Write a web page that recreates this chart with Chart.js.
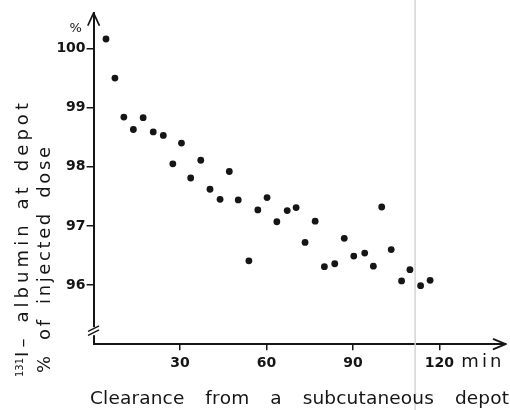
<!DOCTYPE html>
<html>
<head>
<meta charset="utf-8">
<script src="https://cdn.jsdelivr.net/npm/chart.js@4/dist/chart.umd.min.js"></script>
<style>
html,body{margin:0;padding:0;background:#fff;}
#wrap{width:510px;height:410px;}
</style>
</head>
<body>
<div id="wrap"><canvas id="c" width="510" height="410"></canvas></div>
<script>
// ---- data ----
const times = [4.3, 7.4, 10.5, 13.8, 17.2, 20.7, 24.2, 27.5, 30.5, 33.7, 37.2, 40.4, 43.9, 47.1, 50.2, 53.9, 57.0, 60.2, 63.6, 67.2, 70.3, 73.4, 76.9, 80.1, 83.7, 87.0, 90.3, 94.1, 97.1, 100.0, 103.3, 106.9, 109.8, 113.5, 116.8];
const percent = [100.16, 99.50, 98.84, 98.63, 98.83, 98.59, 98.53, 98.05, 98.40, 97.81, 98.11, 97.62, 97.45, 97.92, 97.44, 96.41, 97.27, 97.48, 97.07, 97.26, 97.31, 96.72, 97.08, 96.31, 96.36, 96.79, 96.49, 96.54, 96.32, 97.32, 96.60, 96.07, 96.26, 95.99, 96.08];
const xTicks = [30, 60, 90, 120];
const yTicks = [96, 97, 98, 99, 100];
const xUnit = "min";
const yUnit = "%";
const xTitle = ["Clearance", "from", "a", "subcutaneous", "depot"];
const yTitle1Sup = "131";
const yTitle1 = ["I\u2013", "albumin", "at", "depot"];
const yTitle2 = ["%", "of", "injected", "dose"];
const scanLineAt = 111.6;

const INK = '#151515';
const FONT = '"DejaVu Sans", sans-serif';

function spreadText(ctx, words, length, wordGap) {
  let sum = 0, gaps = 0;
  words.forEach(w => { for (const ch of w) sum += ctx.measureText(ch).width; gaps += Array.from(w).length - 1; });
  const ls = gaps > 0 ? (length - sum - wordGap * (words.length - 1)) / gaps : 0;
  let x = 0;
  words.forEach((w, wi) => {
    const chars = Array.from(w);
    chars.forEach((ch, ci) => {
      ctx.fillText(ch, x, 0);
      x += ctx.measureText(ch).width + (ci < chars.length - 1 ? ls : 0);
    });
    if (wi < words.length - 1) x += wordGap;
  });
}

const deco = {
  id: 'deco',
  beforeDatasetsDraw(chart) {
    const ctx = chart.ctx;
    const x = chart.scales.x.getPixelForValue(scanLineAt);
    ctx.save();
    ctx.strokeStyle = '#d4d4d4';
    ctx.lineWidth = 1.5;
    ctx.beginPath();
    ctx.moveTo(x, 0); ctx.lineTo(x, chart.height);
    ctx.stroke();
    ctx.restore();
  },
  afterDraw(chart) {
    const ctx = chart.ctx;
    const a = chart.chartArea;
    const xs = chart.scales.x, ys = chart.scales.y;
    ctx.save();
    ctx.strokeStyle = INK; ctx.fillStyle = INK;
    ctx.lineWidth = 1.8; ctx.lineCap = 'round'; ctx.lineJoin = 'round';
    // y arrow
    ctx.beginPath();
    ctx.moveTo(a.left - 5.5, a.top + 12); ctx.lineTo(a.left, a.top); ctx.lineTo(a.left + 5.5, a.top + 12);
    ctx.stroke();
    // x arrow
    ctx.beginPath();
    ctx.moveTo(a.right - 12, a.bottom - 5); ctx.lineTo(a.right, a.bottom); ctx.lineTo(a.right - 12, a.bottom + 5);
    ctx.stroke();
    // axis break
    ctx.fillStyle = '#fff';
    ctx.fillRect(a.left - 3, a.bottom - 17, 6, 8);
    ctx.fillStyle = INK;
    ctx.lineWidth = 1.5;
    ctx.beginPath();
    ctx.moveTo(a.left - 5, a.bottom - 13); ctx.lineTo(a.left + 5, a.bottom - 18);
    ctx.moveTo(a.left - 5, a.bottom - 9); ctx.lineTo(a.left + 5, a.bottom - 14);
    ctx.stroke();
    // units
    ctx.font = '13px ' + FONT;
    ctx.textAlign = 'center'; ctx.textBaseline = 'middle';
    ctx.fillText(yUnit, a.left - 18, ys.getPixelForValue(100) - 20);
    ctx.font = '18px ' + FONT;
    ctx.textAlign = 'left'; ctx.textBaseline = 'alphabetic';
    ctx.save();
    ctx.translate(xs.getPixelForValue(120) + 22, a.bottom + 23);
    spreadText(ctx, [xUnit], 40, 0);
    ctx.restore();
    // x title
    ctx.font = '18.5px ' + FONT;
    ctx.save();
    ctx.translate(90, 404);
    spreadText(ctx, xTitle, 419, 21);
    ctx.restore();
    // y title line 1
    ctx.save();
    ctx.translate(28, 377);
    ctx.rotate(-Math.PI / 2);
    ctx.font = '10px ' + FONT;
    ctx.fillText(yTitle1Sup, 0, -5);
    const supW = ctx.measureText(yTitle1Sup).width + 1;
    ctx.translate(supW, 0);
    ctx.font = '18px ' + FONT;
    spreadText(ctx, yTitle1, 274 - supW, 16);
    ctx.restore();
    // y title line 2
    ctx.save();
    ctx.translate(50, 373);
    ctx.rotate(-Math.PI / 2);
    ctx.font = '18px ' + FONT;
    spreadText(ctx, yTitle2, 226, 16);
    ctx.restore();
    ctx.restore();
  }
};

new Chart(document.getElementById('c'), {
  type: 'scatter',
  data: {
    datasets: [{
      data: times.map((t, i) => ({ x: t, y: percent[i] })),
      backgroundColor: INK,
      borderColor: INK,
      pointRadius: 3.4,
      pointHoverRadius: 3.4,
      borderWidth: 0
    }]
  },
  options: {
    responsive: false,
    animation: false,
    devicePixelRatio: 1,
    layout: { padding: { left: 0, top: 13, right: 4.4, bottom: 0 } },
    plugins: { legend: { display: false }, tooltip: { enabled: false } },
    scales: {
      x: {
        type: 'linear', min: 0, max: 143,
        afterBuildTicks: s => { s.ticks = xTicks.map(v => ({ value: v })); },
        afterFit: s => { s.height = 65.8; },
        grid: { display: true, drawOnChartArea: false, drawTicks: true, tickLength: 6, color: INK, lineWidth: 1.5 },
        border: { display: true, color: INK, width: 2 },
        ticks: { color: INK, font: { family: FONT, size: 14, weight: 'bold' }, padding: 5, maxRotation: 0, callback: v => String(v) }
      },
      y: {
        type: 'linear', min: 95, max: 100.6,
        afterBuildTicks: s => { s.ticks = yTicks.map(v => ({ value: v })); },
        afterFit: s => { s.width = 93.6; },
        grid: { display: true, drawOnChartArea: false, drawTicks: true, tickLength: 7, color: INK, lineWidth: 1.5 },
        border: { display: true, color: INK, width: 2 },
        ticks: { color: INK, font: { family: FONT, size: 14, weight: 'bold' }, padding: 1, callback: v => String(v) }
      }
    }
  },
  plugins: [deco]
});
</script>
</body>
</html>
